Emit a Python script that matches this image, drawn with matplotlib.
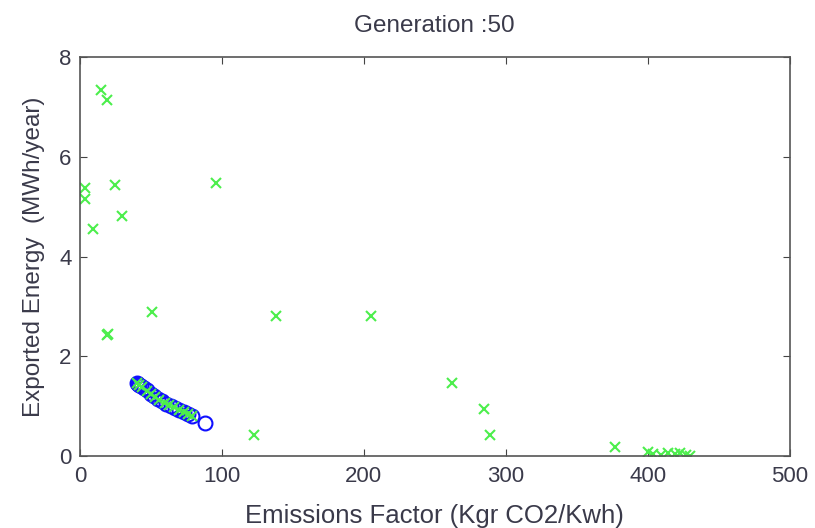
import matplotlib.pyplot as plt

# population (green crosses)
pop_x = [14.8, 19, 3.5, 3.5, 24.6, 30, 9, 96, 19, 19.5, 51, 138, 205, 123,
         262, 284.5, 289, 377, 400, 404, 409, 414, 419, 423, 427, 430,
         40, 42, 44, 47, 50, 53, 56, 60, 63, 66, 70, 73, 76, 79]
pop_y = [7.34, 7.14, 5.37, 5.15, 5.43, 4.81, 4.55, 5.47, 2.42, 2.44, 2.89, 2.81, 2.81, 0.42,
         1.46, 0.94, 0.42, 0.18, 0.08, 0.05, 0.03, 0.07, 0.04, 0.06, 0.02, 0.01,
         1.46, 1.42, 1.38, 1.31, 1.25, 1.19, 1.13, 1.07, 1.02, 0.98, 0.93, 0.89, 0.85, 0.80]

# pareto front (blue circles)
front_x = [40, 41, 42, 43, 45, 47, 50, 52, 55, 58, 61, 64, 67, 70, 73, 76, 79, 88]
front_y = [1.47, 1.45, 1.42, 1.40, 1.36, 1.32, 1.25, 1.20, 1.15, 1.10, 1.05, 1.00,
           0.96, 0.92, 0.88, 0.84, 0.80, 0.66]

plt.rcParams['font.family'] = ['Liberation Sans', 'DejaVu Sans']
txt = '#3a3a4a'

fig = plt.figure(figsize=(8.15, 5.28), dpi=100)
ax = fig.add_axes([0.098, 0.136, 0.871, 0.756])

ax.plot(front_x, front_y, 'o', ms=10, mfc='none', mec='#1010ff', mew=1.5)
ax.plot(pop_x, pop_y, 'x', ms=7, color='#4cee4c', mew=1.5)

ax.set_xlim(0, 500)
ax.set_ylim(0, 8)
ax.set_xticks([0, 100, 200, 300, 400, 500])
ax.set_yticks([0, 2, 4, 6, 8])
ax.tick_params(direction='in', length=5, labelsize=16, colors='#444444',
               labelcolor=txt, top=True, right=True)
ax.tick_params(axis='x', pad=7)
ax.tick_params(axis='y', pad=6)
for s in ax.spines.values():
    s.set_color('#555555')
    s.set_linewidth(1.2)

ax.set_xlabel("Emissions Factor (Kgr CO2/Kwh)", fontsize=18.5, color=txt, labelpad=12)
ax.set_ylabel("Exported Energy  (MWh/year)", fontsize=17.5, color=txt, labelpad=10)
ax.set_title("Generation :50", fontsize=17.5, color=txt, pad=18)

fig.savefig("out.png", dpi=100)
